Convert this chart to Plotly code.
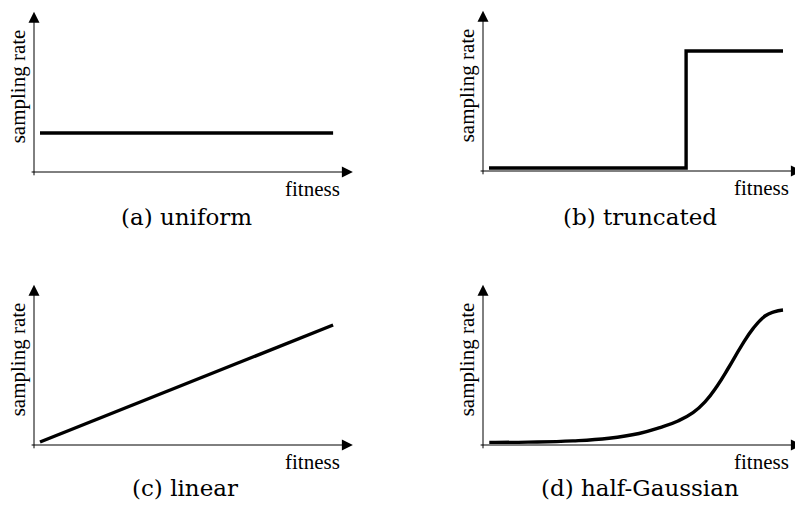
import plotly.graph_objects as go

W, H = 795, 517

# Sampling-rate profiles (fitness on x, sampling rate on y)
uniform_fitness = [0.02, 0.997]
uniform_rate = [0.325, 0.325]

truncated_fitness = [0.02, 0.677, 1.0]
truncated_rate = [0.025, 1.0, 1.0]

linear_fitness = [0.02, 0.997]
linear_rate = [0.025, 1.0]

halfgauss_fitness = [0.021, 0.15, 0.30, 0.42, 0.52, 0.59, 0.65, 0.70,
                     0.74, 0.78, 0.82, 0.86, 0.90, 0.94, 0.97, 1.0]
halfgauss_rate = [0.022, 0.024, 0.034, 0.056, 0.096, 0.145, 0.20, 0.27,
                  0.36, 0.49, 0.65, 0.82, 0.97, 1.075, 1.11, 1.125]

captions = ["(a) uniform", "(b) truncated", "(c) linear", "(d) half-Gaussian"]
x_title = "fitness"
y_title = "sampling rate"

# Axis arrow extents in data units
x_axis_span = [-0.013, 1.063]
y_axis_span = [-0.04, 1.335]

series = [
    (uniform_fitness, uniform_rate, "linear"),
    (truncated_fitness, truncated_rate, "hv"),
    (linear_fitness, linear_rate, "linear"),
    (halfgauss_fitness, halfgauss_rate, "spline"),
]

# Pixel boxes for each panel and where the axis origin sits inside it
panels = [
    dict(box=(0, 397, 0, 258), origin=(34, 172), cap=(186, 217)),
    dict(box=(397, 795, 0, 258), origin=(483, 171), cap=(640, 217)),
    dict(box=(0, 397, 258, 517), origin=(34, 445), cap=(185, 488)),
    dict(box=(397, 795, 258, 517), origin=(483, 445), cap=(640, 488)),
]
SX, SY = 300.0, 120.0  # pixels per data unit

fig = go.Figure()
annotations = []
layout_axes = {}

for i, (p, (fx, fy, shape)) in enumerate(zip(panels, series)):
    n = "" if i == 0 else str(i + 1)
    x0, x1, y0, y1 = p["box"]
    ox, oy = p["origin"]
    layout_axes["xaxis" + n] = dict(
        domain=[x0 / W, x1 / W],
        range=[(x0 - ox) / SX, (x1 - ox) / SX],
        visible=False, fixedrange=True,
        anchor="y" + n,
    )
    layout_axes["yaxis" + n] = dict(
        domain=[1 - y1 / H, 1 - y0 / H],
        range=[(oy - y1) / SY, (oy - y0) / SY],
        visible=False, fixedrange=True,
        anchor="x" + n,
    )
    xr, yr = "x" + n, "y" + n

    fig.add_trace(go.Scatter(
        x=fx, y=fy, mode="lines", xaxis=xr, yaxis=yr,
        line=dict(color="black", width=3.4, shape=shape, smoothing=1.3),
        hoverinfo="skip", showlegend=False,
    ))

    # axes with arrowheads
    annotations.append(dict(
        x=x_axis_span[1], y=0, ax=x_axis_span[0], ay=0,
        xref=xr, yref=yr, axref=xr, ayref=yr,
        text="", showarrow=True, arrowhead=2, arrowsize=2.2,
        arrowwidth=1, arrowcolor="black",
    ))
    annotations.append(dict(
        x=0, y=y_axis_span[1], ax=0, ay=y_axis_span[0],
        xref=xr, yref=yr, axref=xr, ayref=yr,
        text="", showarrow=True, arrowhead=2, arrowsize=2.2,
        arrowwidth=1, arrowcolor="black",
    ))

    # axis titles
    annotations.append(dict(
        x=1.027, y=-0.143, xref=xr, yref=yr, text=x_title,
        showarrow=False, xanchor="right", yanchor="middle",
        font=dict(family="Liberation Serif", size=21, color="black"),
    ))
    annotations.append(dict(
        x=-0.052, y=0.717, xref=xr, yref=yr, text=y_title,
        showarrow=False, textangle=-90, xanchor="center", yanchor="middle",
        font=dict(family="Liberation Serif", size=21, color="black"),
    ))

    # caption
    cx, cy = p["cap"]
    annotations.append(dict(
        x=cx / W, y=1 - cy / H, xref="paper", yref="paper",
        text=captions[i], showarrow=False, xanchor="center", yanchor="middle",
        font=dict(family="DejaVu Serif", size=23, color="black"),
    ))

fig.update_layout(
    width=W, height=H,
    margin=dict(l=0, r=0, t=0, b=0),
    paper_bgcolor="white", plot_bgcolor="white",
    annotations=annotations,
    **layout_axes,
)

fig.write_html("out.html", config={"displayModeBar": False})
